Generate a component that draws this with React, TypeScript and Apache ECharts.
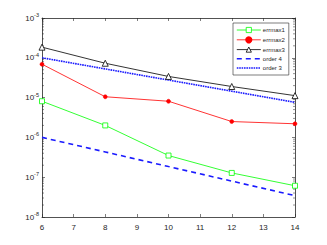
import React, { useEffect, useRef } from "react";
import * as echarts from "echarts";

const xsErr = [6, 8, 10, 12, 14];
const errmax1 = [8.1e-6, 2.0e-6, 3.5e-7, 1.28e-7, 6.1e-8];
const errmax2 = [6.9e-5, 1.05e-5, 8.1e-6, 2.5e-6, 2.2e-6];
const errmax3 = [1.85e-4, 7.3e-5, 3.4e-5, 1.9e-5, 1.12e-5];
const xsOrder = [6, 8, 10, 12, 14];
const order4 = [1e-6, 4.31e-7, 1.85e-7, 7.98e-8, 3.44e-8];
const order3 = [1e-4, 5.25e-5, 2.76e-5, 1.45e-5, 7.6e-6];
const minorTicks = [
  2e-8, 3e-8, 4e-8, 5e-8, 6e-8, 7e-8, 8e-8, 9e-8,
  2e-7, 3e-7, 4e-7, 5e-7, 6e-7, 7e-7, 8e-7, 9e-7,
  2e-6, 3e-6, 4e-6, 5e-6, 6e-6, 7e-6, 8e-6, 9e-6,
  2e-5, 3e-5, 4e-5, 5e-5, 6e-5, 7e-5, 8e-5, 9e-5,
  2e-4, 3e-4, 4e-4, 5e-4, 6e-4, 7e-4, 8e-4, 9e-4,
];

const AX = "#262626";
const FONT = "Liberation Sans";
const BLUE = "#1a1aff";

export default function App() {
  const ref = useRef<HTMLDivElement>(null);
  useEffect(() => {
    const chart = echarts.init(ref.current!, undefined, { renderer: "svg" });
    const pair = (xs: number[], ys: number[]) => xs.map((x, i) => [x, ys[i]]);
    const xBase = {
      type: "value",
      min: 6,
      max: 14,
      interval: 1,
      axisLine: { show: true, lineStyle: { color: AX, width: 0.8 } },
      axisTick: { show: true, inside: true, length: 3, lineStyle: { color: AX, width: 0.6 } },
      splitLine: { show: false },
    };
    const yBase = {
      type: "log",
      logBase: 10,
      min: 1e-8,
      max: 1e-3,
      axisLine: { show: true, lineStyle: { color: AX, width: 0.8 } },
      axisTick: { show: true, inside: true, length: 3, lineStyle: { color: AX, width: 0.6 } },
      splitLine: { show: false },
    };
    chart.setOption({
      animation: false,
      grid: { left: 42, right: 32, top: 18, bottom: 28 },
      xAxis: [
        {
          ...xBase,
          position: "bottom",
          axisLabel: { show: true, color: AX, fontSize: 8, margin: 6, fontFamily: FONT },
        },
        { ...xBase, position: "top", axisLabel: { show: false } },
      ],
      yAxis: [
        {
          ...yBase,
          position: "left",
          axisLabel: {
            show: true,
            margin: 3,
            formatter: (v: number) => `{b|10}{s|${Math.round(Math.log10(v))}}`,
            rich: {
              b: { fontSize: 8, color: AX, fontFamily: FONT },
              s: { fontSize: 5.5, color: AX, fontFamily: FONT, padding: [0, 0, 6, 0] },
            },
          },
        },
        { ...yBase, position: "right", axisLabel: { show: false } },
      ],
      legend: {
        data: [
          { name: "errmax1", lineStyle: { width: 0.8, color: "#00ff00" }, itemStyle: { borderWidth: 0.8 } },
          { name: "errmax2", lineStyle: { width: 0.8, color: "#ff0000" } },
          { name: "errmax3", lineStyle: { width: 0.8, color: "#000000" }, itemStyle: { borderWidth: 0.8 } },
          { name: "order 4", lineStyle: { width: 1.6, color: BLUE, type: [5, 4] }, itemStyle: { opacity: 0 } },
          { name: "order 3", lineStyle: { width: 1.6, color: BLUE, type: [1.6, 0.8] }, itemStyle: { opacity: 0 } },
        ],
        orient: "vertical",
        left: 233,
        top: 23,
        padding: [4, 4, 4, 3],
        itemGap: 3.2,
        itemWidth: 24,
        itemHeight: 6.5,
        backgroundColor: "#ffffff",
        borderColor: AX,
        borderWidth: 0.6,
        textStyle: { fontSize: 6, color: AX, fontFamily: FONT, padding: [0, 0, 0, -3] },
      },
      series: [
        {
          name: "errmax1",
          type: "line",
          data: pair(xsErr, errmax1),
          lineStyle: { color: "#00ff00", width: 0.8 },
          itemStyle: { color: "#ffffff", borderColor: "#00ff00", borderWidth: 0.8 },
          symbol: "rect",
          symbolSize: 5,
        },
        {
          name: "errmax2",
          type: "line",
          data: pair(xsErr, errmax2),
          lineStyle: { color: "#ff0000", width: 0.8 },
          itemStyle: { color: "#ff0000", borderColor: "#ff0000", borderWidth: 0.5 },
          symbol: "circle",
          symbolSize: 4,
        },
        {
          name: "errmax3",
          type: "line",
          data: pair(xsErr, errmax3),
          lineStyle: { color: "#000000", width: 0.8 },
          itemStyle: { color: "#ffffff", borderColor: "#000000", borderWidth: 0.8 },
          symbol: "triangle",
          symbolSize: 6,
        },
        {
          name: "order 4",
          type: "line",
          data: pair(xsOrder, order4),
          lineStyle: { color: BLUE, width: 1.6, type: [5, 4] },
          itemStyle: { color: BLUE },
          symbol: "none",
        },
        {
          name: "order 3",
          type: "line",
          data: pair(xsOrder, order3),
          lineStyle: { color: BLUE, width: 1.6, type: [1.6, 0.8] },
          itemStyle: { color: BLUE },
          symbol: "none",
        },
        {
          name: "minor",
          type: "custom",
          silent: true,
          data: minorTicks.map((v) => [6, v]),
          renderItem: (params: any, api: any) => {
            const v = api.value(1);
            const l = api.coord([6, v]);
            const r = api.coord([14, v]);
            return {
              type: "group",
              children: [
                { type: "line", shape: { x1: l[0], y1: l[1], x2: l[0] + 2, y2: l[1] }, style: { stroke: AX, lineWidth: 0.5 } },
                { type: "line", shape: { x1: r[0] - 2, y1: r[1], x2: r[0], y2: r[1] }, style: { stroke: AX, lineWidth: 0.5 } },
              ],
            };
          },
        },
      ],
    });
    return () => chart.dispose();
  }, []);
  return <div ref={ref} style={{ width: 327, height: 245, position: "absolute", left: 0, top: 0 }} />;
}
